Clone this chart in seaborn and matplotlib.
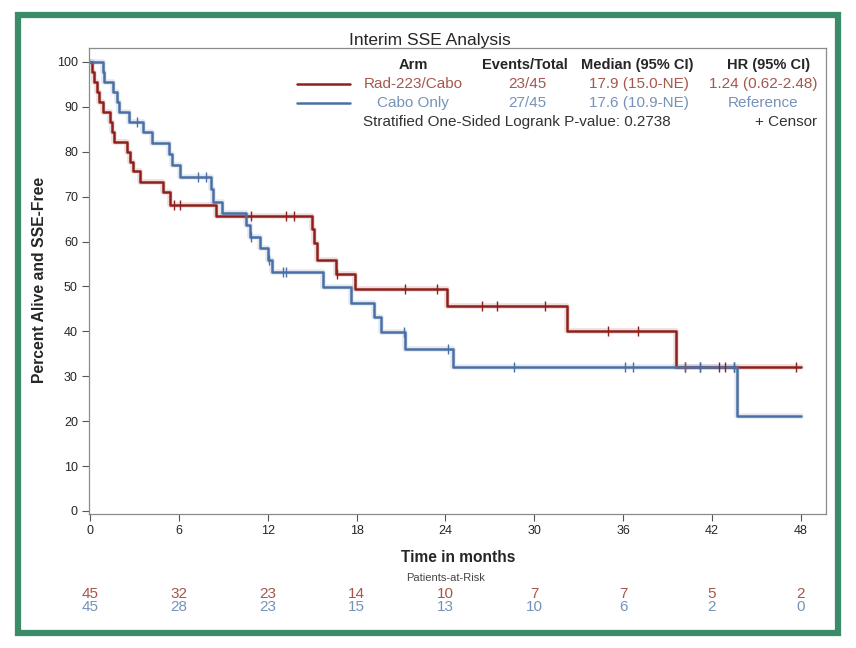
import numpy as np
import pandas as pd
import matplotlib
matplotlib.use("Agg")
import matplotlib.pyplot as plt
import matplotlib.transforms as mtransforms
from matplotlib.lines import Line2D
from matplotlib.patches import Rectangle
import seaborn as sns

# Kaplan-Meier steps (months, percent)
rad_time = [0, 0.15, 0.3, 0.45, 0.6, 0.9, 1.35, 1.5, 1.6, 2.5, 2.7, 2.9, 3.4, 4.9, 5.4,
            8.5, 15.0, 15.15, 15.3, 16.6, 17.9, 24.1, 32.2, 39.6, 48.0]
rad_surv = [100, 97.8, 95.6, 93.3, 91.1, 88.9, 86.7, 84.4, 82.2, 80.0, 77.8, 75.6, 73.3, 71.1, 68.1,
            65.6, 62.9, 59.7, 55.9, 52.8, 49.5, 45.6, 40.0, 32.0, 32.0]
rad_censor = [5.7, 6.1, 10.9, 13.2, 13.8, 16.7, 21.3, 23.4, 26.5, 27.5, 30.7, 35.0, 37.0,
              40.2, 41.2, 42.5, 42.9, 43.5, 47.7]

cabo_time = [0, 0.85, 0.95, 1.55, 1.8, 1.95, 2.6, 3.6, 4.2, 5.3, 5.55, 6.1, 8.2, 8.3, 8.9,
             10.5, 10.8, 11.5, 12.0, 12.3, 15.7, 17.6, 19.2, 19.65, 21.3, 24.5, 43.7, 48.0]
cabo_surv = [100, 97.8, 95.6, 93.3, 91.1, 88.9, 86.7, 84.4, 82.0, 79.6, 77.1, 74.4, 71.6, 68.8, 66.4,
             63.7, 61.0, 58.6, 55.9, 53.2, 49.9, 46.3, 43.2, 39.9, 36.1, 32.1, 21.2, 21.2]
cabo_censor = [3.2, 7.3, 7.8, 10.9, 12.1, 13.0, 13.2, 21.2, 24.2, 28.6, 36.1, 36.7,
               40.2, 41.2, 43.5]

risk_months = [0, 6, 12, 18, 24, 30, 36, 42, 48]
rad_risk = [45, 32, 23, 14, 10, 7, 7, 5, 2]
cabo_risk = [45, 28, 23, 15, 13, 10, 6, 2, 0]

arms = ["Rad-223/Cabo", "Cabo Only"]
events = ["23/45", "27/45"]
medians = ["17.9 (15.0-NE)", "17.6 (10.9-NE)"]
hrs = ["1.24 (0.62-2.48)", "Reference"]

RED = "#8e1f1a"
BLUE = "#4a6fa5"
RED_TXT = "#a5574c"
BLUE_TXT = "#7592b8"

sns.set_style("white")
plt.rcParams["font.family"] = ["Liberation Sans", "DejaVu Sans"]

W, H = 856, 648
fig = plt.figure(figsize=(W / 100, H / 100), dpi=100)


def fx(px):
    return px / W


def fy(py):
    return 1 - py / H


# green frame round the whole picture
fig.patches.append(Rectangle((fx(18), fy(633)), (838 - 18) / W, (633 - 15) / H,
                             transform=fig.transFigure, fill=False, lw=4.5, ec="#3b8a68"))

ax = fig.add_axes([fx(89), fy(514), fx(826 - 89), (514 - 48) / H])


def curve_at(times, surv, t):
    idx = np.searchsorted(times, t, side="right") - 1
    return np.asarray(surv)[idx]


for t, s, cens, col in [(rad_time, rad_surv, rad_censor, RED),
                        (cabo_time, cabo_surv, cabo_censor, BLUE)]:
    df = pd.DataFrame({"time": t, "surv": s})
    sns.lineplot(data=df, x="time", y="surv", ax=ax, drawstyle="steps-post", estimator=None,
                 sort=False, color=col, lw=4, alpha=0.15)
    sns.lineplot(data=df, x="time", y="surv", ax=ax, drawstyle="steps-post", estimator=None,
                 sort=False, color=col, lw=1.8)
    cdf = pd.DataFrame({"time": cens, "surv": curve_at(t, s, cens)})
    sns.scatterplot(data=cdf, x="time", y="surv", ax=ax, marker="|", s=60, color=col,
                    linewidth=1.0, zorder=5)

ax.set_xlim(-0.07, 49.7)
ax.set_ylim(-0.67, 103.1)
ax.set_xticks(risk_months)
ax.set_yticks(range(0, 101, 10))
ax.tick_params(axis="both", direction="out", length=5, width=0.8, color="#555555",
               labelsize=9, pad=3, left=True, bottom=True)
for sp in ax.spines.values():
    sp.set_color("#8a8a8a")
    sp.set_linewidth(0.9)
ax.set_xlabel("")
ax.set_ylabel("")

fig.text(fx(430), fy(40), "Interim SSE Analysis", ha="center", va="center", fontsize=12.5)
fig.text(fx(40), fy(280), "Percent Alive and SSE-Free", rotation=90, ha="center", va="center",
         fontsize=11.3, fontweight="bold")
fig.text(fx(458), fy(557), "Time in months", ha="center", va="center", fontsize=11.2,
         fontweight="bold")
fig.text(fx(446), fy(578), "Patients-at-Risk", ha="center", va="center", fontsize=8,
         color="#444444")

# at-risk table under the axis
trans = mtransforms.blended_transform_factory(ax.transData, fig.transFigure)
for m, r, c in zip(risk_months, rad_risk, cabo_risk):
    ax.text(m, fy(594), str(r), transform=trans, ha="center", va="center", fontsize=11,
            color=RED_TXT, clip_on=False)
    ax.text(m, fy(607), str(c), transform=trans, ha="center", va="center", fontsize=11,
            color=BLUE_TXT, clip_on=False)

# legend table inside the plot
hdr_y = fy(65)
hdr_x = [413, 525, 637, 769]
val_x = [413, 527, 639, 763]
for x, h in zip(hdr_x, ["Arm", "Events/Total", "Median (95% CI)", "HR (95% CI)"]):
    fig.text(fx(x), hdr_y, h, ha="center", va="center", fontsize=10.5, fontweight="bold")
for i, (row_y, col, tcol) in enumerate([(84, RED, RED_TXT), (103, BLUE, BLUE_TXT)]):
    fig.lines.append(Line2D([fx(297), fx(350)], [fy(row_y), fy(row_y)], color=col, lw=1.8,
                            transform=fig.transFigure))
    vals = [arms[i], events[i], medians[i], hrs[i]]
    for x, v in zip(val_x, vals):
        fig.text(fx(x), fy(row_y), v, ha="center", va="center", fontsize=11, color=tcol)
fig.text(fx(517), fy(122), "Stratified One-Sided Logrank P-value: 0.2738", ha="center",
         va="center", fontsize=11, color="#333333")
fig.text(fx(817), fy(122), "+ Censor", ha="right", va="center", fontsize=11, color="#333333")

fig.savefig("out.png", dpi=100)
